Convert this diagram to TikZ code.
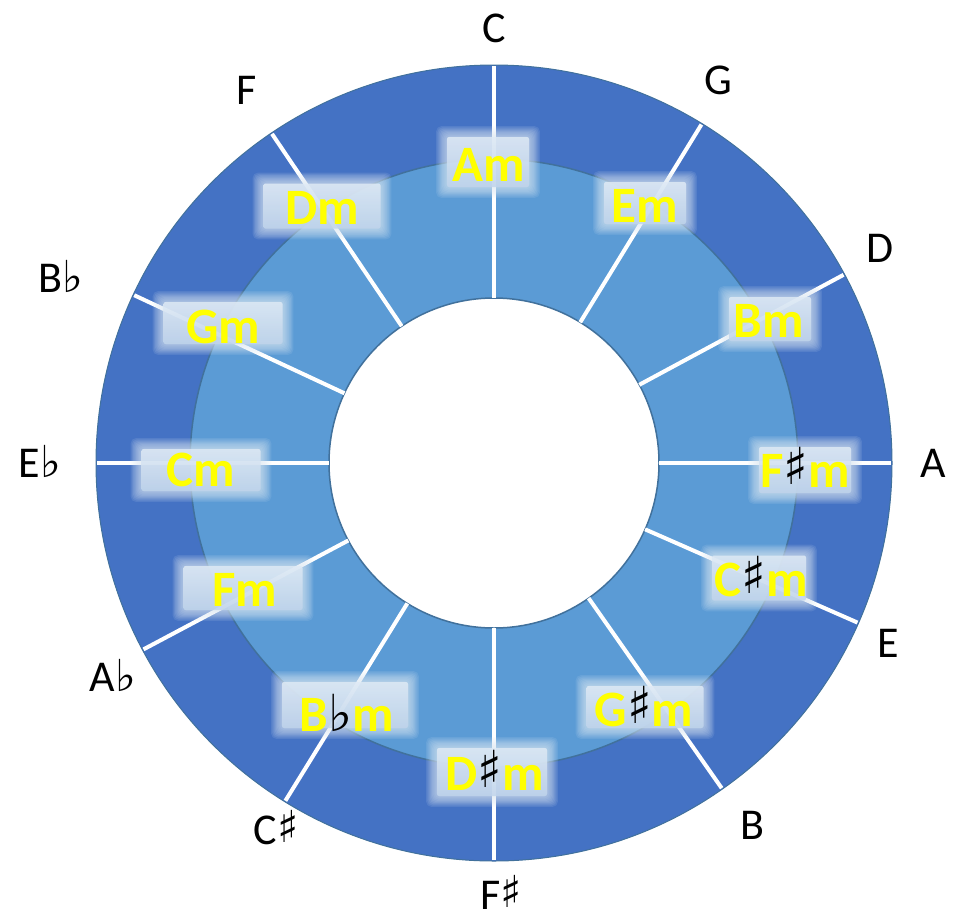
\documentclass[tikz,border=0pt]{standalone}
\usepackage{fontspec}
\setmainfont{Carlito}
\newfontfamily\symfont{DejaVu Sans}
\definecolor{outerblue}{HTML}{4472C4}
\definecolor{innerblue}{HTML}{5B9BD5}
\definecolor{edgeblue}{HTML}{41719C}
\definecolor{glowtop}{HTML}{DFEAF5}
\definecolor{glowbot}{HTML}{C0D4EB}
\definecolor{minoryellow}{HTML}{FFFF00}
\newcommand\shrp{\raisebox{0.04em}{\symfont\color{black}♯}}
\newcommand\flt{{\symfont\color{black}♭}}
\newcommand\glowbox[4]{%
  \foreach \k in {9,8,...,1}{%
    \fill[glowtop, opacity=0.11, rounded corners=5pt]
      ({#1-#3/2+9-1.2*\k},{#2-#4/2+9-1.2*\k}) rectangle ({#1+#3/2-9+1.2*\k},{#2+#4/2-9+1.2*\k});
  }%
  \shade[top color=glowtop, bottom color=glowbot, opacity=0.85, rounded corners=2pt]
    ({#1-#3/2+9},{#2-#4/2+9}) rectangle ({#1+#3/2-9},{#2+#4/2-9});
}
\tikzset{
  minorlbl/.style={anchor=base, inner sep=0pt, text=minoryellow, font=\fontsize{51}{51}\selectfont\bfseries},
  majorlbl/.style={anchor=base, inner sep=0pt, text=black, font=\fontsize{44}{44}\selectfont},
  ringedge/.style={draw=edgeblue, line width=1.5pt},
  divider/.style={draw=white, line width=4pt}
}
\begin{document}
\begin{tikzpicture}[x=1pt, y=-1pt]
\useasboundingbox (0,0) rectangle (953,919);
\coordinate (O) at (494,463);
% rings
\fill[outerblue] (O) circle[radius=398pt];
\draw[edgeblue, line width=1pt] (O) circle[radius=398pt];
\path[fill=innerblue, ringedge] (O) circle[radius=304pt];
\path[fill=white, ringedge] (O) circle[radius=165pt];
% dividers
\foreach \a in {0,31.5,61.7,90,113.7,145,180,211.7,242,270,295,326}{
  \draw[divider] ({494+165*sin(\a)},{463-165*cos(\a)}) -- ({494+397*sin(\a)},{463-397*cos(\a)});
}
% glow boxes
\glowbox{488}{162}{100}{68}
\glowbox{645}{203}{100}{60}
\glowbox{770}{319}{100}{62}
\glowbox{805}{470}{110}{64}
\glowbox{759}{578}{112}{63}
\glowbox{645}{707}{135}{60}
\glowbox{492}{772}{128}{66}
\glowbox{345}{705}{144}{64}
\glowbox{243}{588}{137}{62}
\glowbox{201}{470}{137}{60}
\glowbox{223}{323}{137}{60}
\glowbox{322}{206}{135}{63}
% minor labels
\node[minorlbl] (am)  at (489,181) {Am};
\node[minorlbl] (em)  at (645,222) {Em};
\node[minorlbl] (bm)  at (769,337) {Bm};
\node[minorlbl] (fsm) at (805,487) {F\shrp m};
\node[minorlbl] (csm) at (761,596) {C\shrp m};
\node[minorlbl] (gsm) at (644,726) {G\shrp m};
\node[minorlbl] (dsm) at (495,790) {D\shrp m};
\node[minorlbl] (bbm) at (347,731) {B\flt m};
\node[minorlbl] (fm)  at (245,606) {Fm};
\node[minorlbl] (cm)  at (201,486) {Cm};
\node[minorlbl] (gm)  at (223,343) {Gm};
\node[minorlbl] (dm)  at (322,224) {Dm};
% major labels
\node[majorlbl] (c)  at (494,42)  {C};
\node[majorlbl] (g)  at (718,94)  {G};
\node[majorlbl] (d)  at (880,262) {D};
\node[majorlbl] (a)  at (933,477) {A};
\node[majorlbl] (e)  at (888,657) {E};
\node[majorlbl] (b)  at (752,839) {B};
\node[majorlbl] (fs) at (501,909) {F\shrp};
\node[majorlbl] (cs) at (276,844) {C\shrp};
\node[majorlbl] (ab) at (113,691) {A\flt};
\node[majorlbl] (eb) at (40,477)  {E\flt};
\node[majorlbl] (bb) at (61,292)  {B\flt};
\node[majorlbl] (f)  at (247,104) {F};
\end{tikzpicture}
\end{document}
